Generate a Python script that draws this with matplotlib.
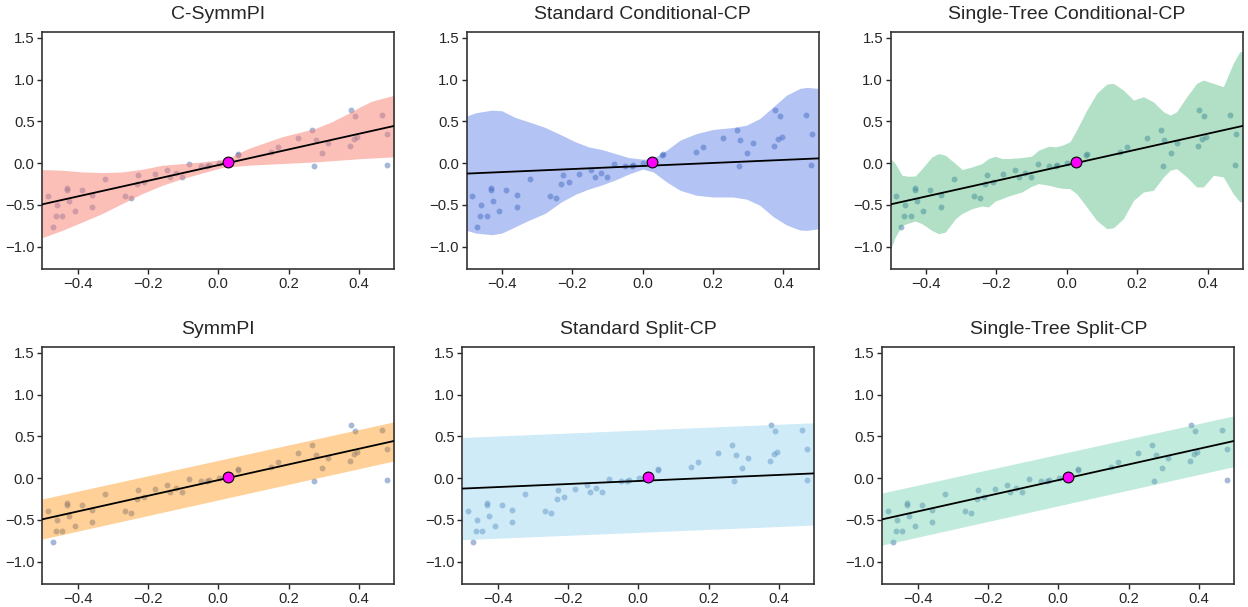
import matplotlib
matplotlib.use("Agg")
import matplotlib.pyplot as plt

plt.rcParams['font.family'] = ['Liberation Sans', 'DejaVu Sans']
plt.rcParams['text.color'] = '.15'
plt.rcParams['axes.edgecolor'] = '.2'
plt.rcParams['xtick.color'] = '.15'
plt.rcParams['ytick.color'] = '.15'

# observed points (same in every panel)
pts_x = [-0.484, -0.462, -0.458, -0.470, -0.443, -0.430, -0.430, -0.425, -0.407, -0.388,
         -0.358, -0.358, -0.321, -0.264, -0.247, -0.232, -0.227, -0.210, -0.180, -0.146,
         -0.136, -0.119, -0.102, -0.082, -0.049, -0.031, -0.027, 0.002, 0.056, 0.057,
         0.151, 0.171, 0.227, 0.267, 0.273, 0.277, 0.296, 0.312, 0.373, 0.376,
         0.385, 0.389, 0.395, 0.465, 0.480, 0.479]
pts_y = [-0.392, -0.628, -0.504, -0.760, -0.628, -0.296, -0.320, -0.452, -0.576, -0.320,
         -0.384, -0.524, -0.188, -0.392, -0.412, -0.244, -0.136, -0.228, -0.128, -0.076,
         -0.168, -0.116, -0.168, -0.012, -0.036, -0.028, -0.024, 0.000, 0.096, 0.116,
         0.140, 0.196, 0.308, 0.392, -0.036, 0.276, 0.120, 0.240, 0.204, 0.632,
         0.288, 0.564, 0.320, 0.572, 0.348, -0.020]

# test point
test_x = 0.027
test_y = 0.02

# fitted lines
line_x = [-0.5, 0.5]
symm_line = [-0.492, 0.447]
std_line = [-0.124, 0.058]

# C-SymmPI band
csym_x = [-0.5, -0.443, -0.386, -0.33, -0.273, -0.216, -0.159, -0.102, -0.045, 0.011,
          0.028, 0.085, 0.18, 0.275, 0.322, 0.369, 0.407, 0.436, 0.5]
csym_lo = [-0.891, -0.803, -0.703, -0.603, -0.483, -0.364, -0.264, -0.184, -0.116, -0.052,
           -0.044, -0.024, -0.004, 0.016, 0.03, 0.044, 0.056, 0.062, 0.076]
csym_hi = [-0.076, -0.084, -0.104, -0.112, -0.104, -0.072, -0.024, -0.004, 0.016, 0.044,
           0.06, 0.176, 0.316, 0.416, 0.496, 0.596, 0.684, 0.743, 0.815]

# Standard Conditional-CP band
scond_x = [-0.5, -0.475, -0.428, -0.4, -0.362, -0.324, -0.277, -0.23, -0.191, -0.154,
           -0.116, -0.078, -0.04, 0.0, 0.03, 0.068, 0.106, 0.153, 0.2, 0.257,
           0.295, 0.333, 0.371, 0.409, 0.447, 0.466, 0.5]
scond_lo = [-0.804, -0.836, -0.856, -0.836, -0.76, -0.684, -0.6, -0.46, -0.372, -0.31,
            -0.26, -0.2, -0.13, -0.07, -0.104, -0.224, -0.324, -0.384, -0.404, -0.404,
            -0.43, -0.504, -0.64, -0.74, -0.8, -0.804, -0.784]
scond_hi = [0.564, 0.604, 0.636, 0.628, 0.548, 0.496, 0.428, 0.336, 0.256, 0.196,
            0.164, 0.116, 0.068, 0.048, 0.056, 0.156, 0.276, 0.356, 0.404, 0.428,
            0.456, 0.536, 0.676, 0.816, 0.896, 0.908, 0.896]

# Single-Tree Conditional-CP band
stcond_x = [-0.5, -0.487, -0.468, -0.449, -0.43, -0.411, -0.383, -0.364, -0.345, -0.316,
            -0.297, -0.269, -0.241, -0.222, -0.203, -0.184, -0.165, -0.127, -0.1, -0.08,
            -0.051, -0.032, -0.013, 0.009, 0.028, 0.057, 0.085, 0.114, 0.133, 0.161,
            0.19, 0.218, 0.246, 0.275, 0.294, 0.312, 0.341, 0.369, 0.388, 0.417,
            0.445, 0.473, 0.492, 0.5]
stcond_lo = [-1.024, -0.884, -0.744, -0.716, -0.692, -0.724, -0.804, -0.844, -0.824, -0.664,
             -0.6, -0.544, -0.512, -0.524, -0.452, -0.424, -0.392, -0.344, -0.276, -0.244,
             -0.264, -0.284, -0.3, -0.304, -0.364, -0.524, -0.684, -0.784, -0.772, -0.664,
             -0.444, -0.344, -0.324, -0.164, -0.084, -0.064, -0.164, -0.284, -0.284, -0.144,
             -0.164, -0.364, -0.464, -0.456]
stcond_hi = [0.056, -0.004, -0.144, -0.156, -0.152, -0.064, 0.076, 0.116, 0.096, -0.004,
             -0.076, -0.044, -0.004, 0.056, 0.084, 0.056, 0.056, 0.068, 0.084, 0.156,
             0.204, 0.196, 0.216, 0.256, 0.396, 0.636, 0.836, 0.948, 0.956, 0.876,
             0.756, 0.796, 0.736, 0.616, 0.576, 0.616, 0.796, 0.956, 0.996, 0.956,
             0.916, 1.196, 1.336, 1.336]

# split bands (constant half-widths around their lines)
symm_lo = [-0.728, 0.208]
symm_hi = [-0.248, 0.676]
ssplit_lo = [-0.736, -0.56]
ssplit_hi = [0.488, 0.664]
stsplit_lo = [-0.80, 0.14]
stsplit_hi = [-0.176, 0.748]

titles = ['C-SymmPI', 'Standard Conditional-CP', 'Single-Tree Conditional-CP',
          'SymmPI', 'Standard Split-CP', 'Single-Tree Split-CP']

fig = plt.figure(figsize=(12.48, 6.07), dpi=100)
W = 352 / 1248
H = 237.6 / 607
positions = [
    (42.3 / 1248, 1 - 269.3 / 607), (466.7 / 1248, 1 - 269.3 / 607), (890.7 / 1248, 1 - 269.3 / 607),
    (42.3 / 1248, 1 - 584.3 / 607), (462.3 / 1248, 1 - 584.3 / 607), (882.3 / 1248, 1 - 584.3 / 607),
]

bands = [
    (csym_x, csym_lo, csym_hi, 'salmon', 0.5, symm_line),
    (scond_x, scond_lo, scond_hi, 'royalblue', 0.4, std_line),
    (stcond_x, stcond_lo, stcond_hi, 'mediumseagreen', 0.4, symm_line),
    (line_x, symm_lo, symm_hi, 'darkorange', 0.4, symm_line),
    (line_x, ssplit_lo, ssplit_hi, 'skyblue', 0.4, std_line),
    (line_x, stsplit_lo, stsplit_hi, 'mediumaquamarine', 0.4, symm_line),
]

for i in range(6):
    ax = fig.add_axes([positions[i][0], positions[i][1], W, H])
    bx, lo, hi, col, al, fit = bands[i]
    ax.scatter(pts_x, pts_y, s=18, color='#4c72b0', alpha=0.5, linewidths=0, zorder=1)
    ax.fill_between(bx, lo, hi, color=col, alpha=al, linewidth=0, zorder=2)
    ax.plot(line_x, fit, color='black', lw=1.3, zorder=3)
    ax.scatter([test_x], [test_y], s=60, color='magenta', edgecolors='black',
               linewidths=0.8, zorder=4)
    ax.set_xlim(-0.5, 0.5)
    ax.set_ylim(-1.27, 1.575)
    ax.set_xticks([-0.4, -0.2, 0.0, 0.2, 0.4])
    ax.set_yticks([-1.0, -0.5, 0.0, 0.5, 1.0, 1.5])
    ax.tick_params(labelsize=10.7, length=3.5, width=1, pad=2)
    for s in ax.spines.values():
        s.set_linewidth(1.2)
    ax.set_title(titles[i], fontsize=14, pad=9)

plt.savefig('out.png', dpi=100)
